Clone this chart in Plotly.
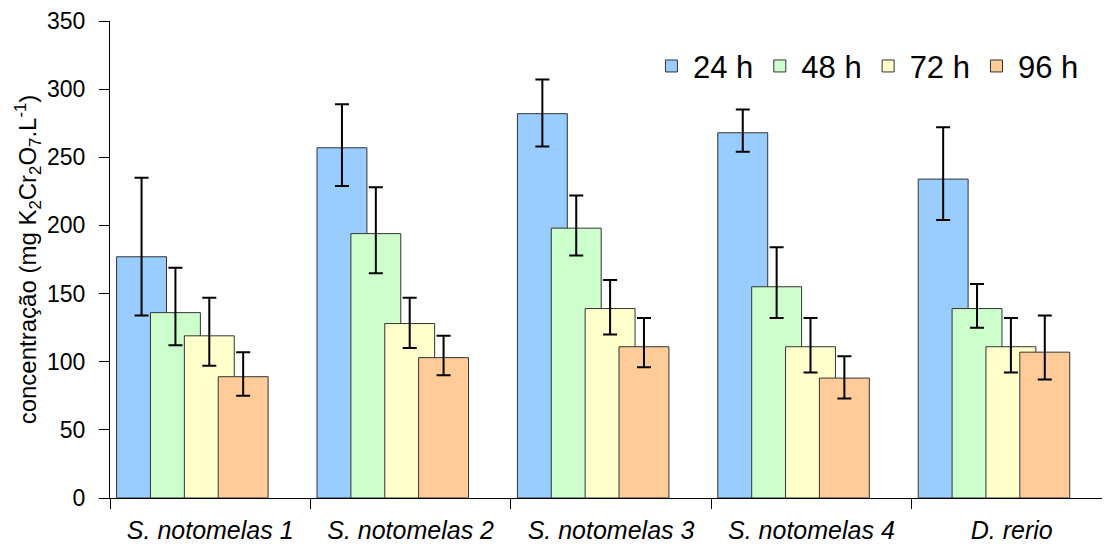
import plotly.graph_objects as go

categories = ["S. notomelas 1", "S. notomelas 2", "S. notomelas 3", "S. notomelas 4", "D. rerio"]
series_names = ["24 h", "48 h", "72 h", "96 h"]

vals_24 = [177, 257, 282, 268, 234]
vals_48 = [136, 194, 198, 155, 139]
vals_72 = [119, 128, 139, 111, 111]
vals_96 = [89, 103, 111, 88, 107]

hi_24 = [235, 289, 307, 285, 272]
lo_24 = [134, 229, 258, 254, 204]
hi_48 = [169, 228, 222, 184, 157]
lo_48 = [112, 165, 178, 132, 125]
hi_72 = [147, 147, 160, 132, 132]
lo_72 = [97, 110, 120, 92, 92]
hi_96 = [107, 119, 132, 104, 134]
lo_96 = [75, 90, 96, 73, 87]

colors = ["#99CCFF", "#CCFFCC", "#FFFFCC", "#FFCC99"]

values = [vals_24, vals_48, vals_72, vals_96]
highs = [hi_24, hi_48, hi_72, hi_96]
lows = [lo_24, lo_48, lo_72, lo_96]

bar_w = 0.249
step = 0.169
first_off = -0.467

fig = go.Figure()
for i, name in enumerate(series_names):
    v = values[i]
    plus = [h - a for h, a in zip(highs[i], v)]
    minus = [a - l for a, l in zip(v, lows[i])]
    fig.add_trace(go.Bar(
        x=categories, y=v, name=name,
        width=bar_w, offset=first_off + i * step,
        marker=dict(color=colors[i], line=dict(color="#333333", width=1)),
        error_y=dict(type="data", symmetric=False, array=plus, arrayminus=minus,
                     color="black", thickness=2, width=7),
    ))

fig.update_layout(
    barmode="overlay",
    width=1110, height=548,
    margin=dict(l=102, r=6, t=13, b=58, autoexpand=False),
    paper_bgcolor="white", plot_bgcolor="white",
    font=dict(family="Liberation Sans, Arial, sans-serif", color="black"),
    showlegend=True,
    legend=dict(orientation="h", x=0.972, xanchor="right", y=0.905, yanchor="middle",
                font=dict(size=31), bgcolor="rgba(0,0,0,0)", traceorder="normal",
                itemwidth=33),
    xaxis=dict(
        type="category", range=[-0.5, 4.5], tickson="boundaries",
        ticks="outside", ticklen=10, tickcolor="black",
        showline=True, linecolor="black", linewidth=1,
        tickfont=dict(size=25, style="italic"), ticklabelstandoff=10,
        showgrid=False, automargin=False,
    ),
    yaxis=dict(
        range=[0, 350], dtick=50, ticks="outside", ticklen=10, tickcolor="black",
        showline=True, linecolor="black", linewidth=1, showgrid=False, zeroline=False,
        tickfont=dict(size=23), ticklabelstandoff=9, automargin=False,
        title=dict(text="concentração (mg K<sub>2</sub>Cr<sub>2</sub>O<sub>7</sub>.L<sup>-1</sup>)",
                   font=dict(size=24), standoff=3),
    ),
)

fig.write_html("out.html")
